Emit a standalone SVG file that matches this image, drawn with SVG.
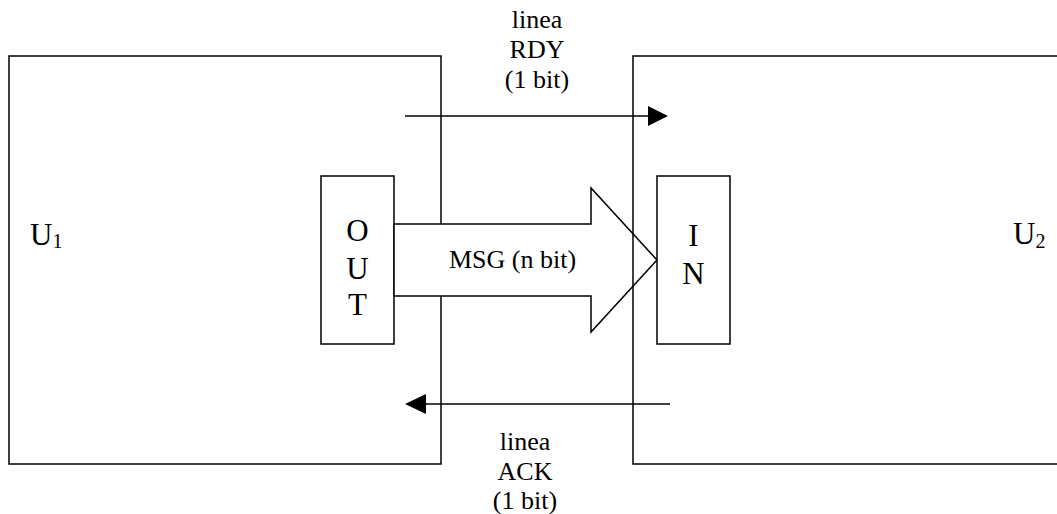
<svg xmlns="http://www.w3.org/2000/svg" width="1057" height="514" viewBox="0 0 1057 514">
  <style>
    .box { fill: none; stroke: #000; stroke-width: 1.5; }
    .wbox { fill: #fff; stroke: #000; stroke-width: 1.5; }
    .line { fill: none; stroke: #000; stroke-width: 1.5; }
    .head { fill: #000; stroke: none; }
    text { font-family: "Liberation Serif", "Times New Roman", serif; fill: #000; }
    .big { font-size: 31px; }
    .sub { font-size: 20px; }
    .lbl { font-size: 26px; text-anchor: middle; }
    .mid { text-anchor: middle; }
  </style>
  <rect width="1057" height="514" fill="#fff"/>
  <g id="U1">
    <rect class="box" x="9" y="56" width="432" height="408"/>
    <text class="big" x="30" y="245">U<tspan class="sub" dy="3">1</tspan></text>
  </g>
  <g id="OUT">
    <rect class="wbox" x="321" y="176" width="73" height="168"/>
    <text class="big mid" x="357.5" y="241">O</text>
    <text class="big mid" x="357.5" y="279">U</text>
    <text class="big mid" x="357.5" y="315">T</text>
  </g>
  <g id="connectors">
    <g id="MSG">
      <polygon class="wbox" points="394,224 591,224 591,188 657,260 591,332 591,296 394,296"/>
      <text class="lbl" x="512.5" y="268">MSG (n bit)</text>
    </g>
  </g>
  <g id="U2">
    <path class="line" d="M1060,56 H633 V464 H1060"/>
    <text class="big" x="1013" y="244">U<tspan class="sub" dy="4">2</tspan></text>
  </g>
  <g id="IN">
    <rect class="wbox" x="657" y="176" width="73" height="168"/>
    <text class="big mid" x="693.5" y="246">I</text>
    <text class="big mid" x="693.5" y="284">N</text>
  </g>
  <g id="connectors2">
    <g id="RDY">
      <line class="line" x1="405" y1="116" x2="650" y2="116"/>
      <polygon class="head" points="648,106 668,116 648,126"/>
      <text class="lbl" x="537" y="28">linea</text>
      <text class="lbl" x="537" y="58">RDY</text>
      <text class="lbl" x="537" y="88">(1 bit)</text>
    </g>
    <g id="ACK">
      <line class="line" x1="670" y1="404" x2="424" y2="404"/>
      <polygon class="head" points="426,394 405,404 426,414"/>
      <text class="lbl" x="525" y="450">linea</text>
      <text class="lbl" x="525" y="480">ACK</text>
      <text class="lbl" x="525" y="509">(1 bit)</text>
    </g>
  </g>
</svg>
